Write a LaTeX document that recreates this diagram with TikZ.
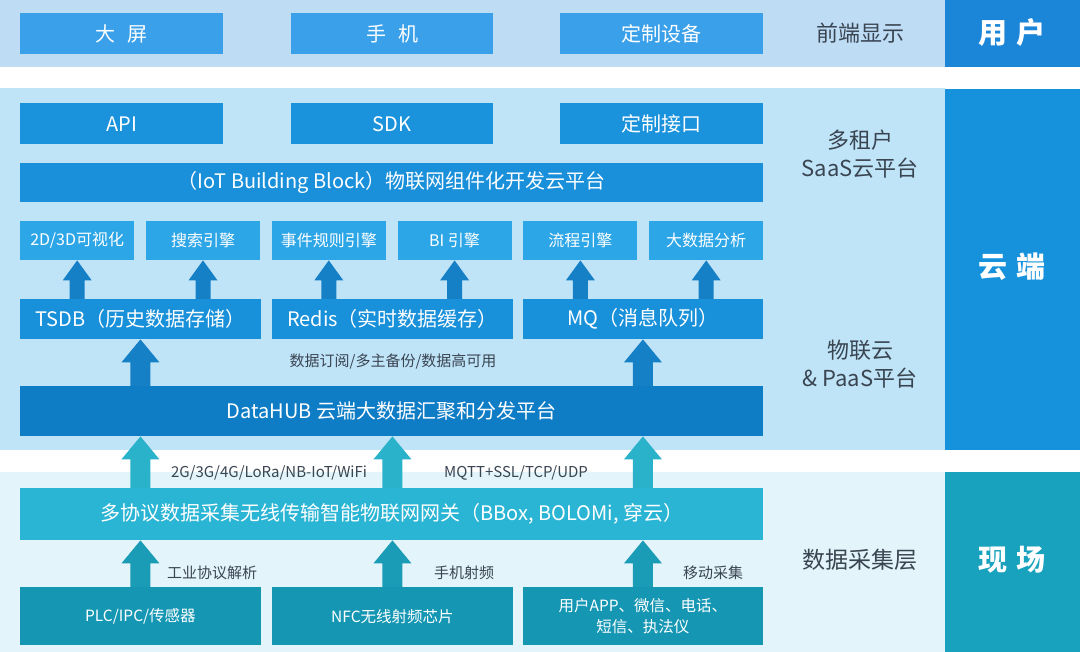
\documentclass[tikz,border=0pt]{standalone}
\usepackage{fontspec}
\setmainfont{Noto Sans CJK SC}
\usetikzlibrary{calc}
\definecolor{bgTop}{HTML}{BFDCF5}
\definecolor{bgCloud}{HTML}{BFE3F7}
\definecolor{bgField}{HTML}{E3F4FA}
\definecolor{cFront}{HTML}{3BA0EA}
\definecolor{cApi}{HTML}{1A93DC}
\definecolor{cIot}{HTML}{1A8FDA}
\definecolor{cEng}{HTML}{2DA6E8}
\definecolor{cSto}{HTML}{1890DA}
\definecolor{cHub}{HTML}{0F7DC6}
\definecolor{cArr}{HTML}{1580C6}
\definecolor{cGw}{HTML}{2BB5D5}
\definecolor{cGwArr}{HTML}{2AB2CB}
\definecolor{cFld}{HTML}{1597B4}
\definecolor{cFldArr}{HTML}{1A9CB6}
\definecolor{cUser}{HTML}{1B85D8}
\definecolor{cCloud}{HTML}{1592DB}
\definecolor{cSite}{HTML}{18A2BD}
\definecolor{cLbl}{HTML}{3A4552}
\newcommand\fz[2]{\fontsize{#1}{#2}\selectfont}
\begin{document}
\begin{tikzpicture}[x=1pt,y=-1pt,
  bx/.style={inner sep=0pt, anchor=north west, text=white, align=center},
  lbl/.style={inner sep=0pt, text=cLbl, align=center},
  side/.style={inner sep=0pt, text=white, align=center, font=\fz{29}{34}\bfseries},
  bigarrow/.style={to path={let \p1=(\tikztostart), \p2=(\tikztotarget) in
    (\x1-10pt,\y1) -- (\x1-10pt,\y2-23pt) -- (\x1-19pt,\y2-23pt) -- (\x1,\y2)
    -- (\x1+19pt,\y2-23pt) -- (\x1+10pt,\y2-23pt) -- (\x1+10pt,\y1) -- cycle}},
  smallarrow/.style={to path={let \p1=(\tikztostart), \p2=(\tikztotarget) in
    (\x1-7.5pt,\y1) -- (\x1-7.5pt,\y2-20pt) -- (\x1-14.5pt,\y2-20pt) -- (\x1,\y2)
    -- (\x1+14.5pt,\y2-20pt) -- (\x1+7.5pt,\y2-20pt) -- (\x1+7.5pt,\y1) -- cycle}}
]
\useasboundingbox (0,0) rectangle (1080,652);
\fill[white] (0,0) rectangle (1080,652);
% bands
\fill[bgTop] (0,0) rectangle (945,67);
\fill[bgCloud] (0,88) rectangle (945,450);
\fill[bgField] (0,472) rectangle (945,652);
% side boxes
\fill[cUser] (945,0) rectangle (1080,67);
\fill[cCloud] (945,89) rectangle (1080,450);
\fill[cSite] (945,472) rectangle (1080,652);
\node[side] (user) at (1012,33) {用\hspace{0.3em}户};
\node[side] (cloud) at (1012,267) {云\hspace{0.3em}端};
\node[side] (site) at (1012,560) {现\hspace{0.3em}场};
% side labels
\node[lbl, font=\fz{22}{28}] (l1) at (860,33) {前端显示};
\node[lbl, font=\fz{22}{28}] (l2) at (860,154) {多租户\\SaaS云平台};
\node[lbl, font=\fz{22}{28}] (l3) at (860,364) {物联云\\\& PaaS平台};
\node[lbl, font=\fz{23}{28}] (l4) at (860,560) {数据采集层};
% front row
\node[bx, fill=cFront, minimum width=203pt, minimum height=41pt, font=\fz{20}{24}] (d1) at (20,13) {大\hspace{0.6em}屏};
\node[bx, fill=cFront, minimum width=202pt, minimum height=41pt, font=\fz{20}{24}] (d2) at (291,13) {手\hspace{0.6em}机};
\node[bx, fill=cFront, minimum width=203pt, minimum height=41pt, font=\fz{20}{24}] (d3) at (560,13) {定制设备};
% api row
\node[bx, fill=cApi, minimum width=203pt, minimum height=41pt, font=\fz{20}{24}] (a1) at (20,103) {API};
\node[bx, fill=cApi, minimum width=202pt, minimum height=41pt, font=\fz{20}{24}] (a2) at (291,103) {SDK};
\node[bx, fill=cApi, minimum width=203pt, minimum height=41pt, font=\fz{20}{24}] (a3) at (560,103) {定制接口};
% iot block
\node[bx, fill=cIot, minimum width=743pt, minimum height=39pt, font=\fz{20}{24}] (iot) at (20,163) {（IoT Building Block）物联网组件化开发云平台};
% engines
\node[bx, fill=cEng, minimum width=114pt, minimum height=39pt, font=\fz{16}{20}] (e1) at (20,221) {2D/3D可视化};
\node[bx, fill=cEng, minimum width=114pt, minimum height=39pt, font=\fz{16}{20}] (e2) at (145.8,221) {搜索引擎};
\node[bx, fill=cEng, minimum width=114pt, minimum height=39pt, font=\fz{16}{20}] (e3) at (271.6,221) {事件规则引擎};
\node[bx, fill=cEng, minimum width=114pt, minimum height=39pt, font=\fz{16}{20}] (e4) at (397.4,221) {BI 引擎};
\node[bx, fill=cEng, minimum width=114pt, minimum height=39pt, font=\fz{16}{20}] (e5) at (523.2,221) {流程引擎};
\node[bx, fill=cEng, minimum width=114pt, minimum height=39pt, font=\fz{16}{20}] (e6) at (649,221) {大数据分析};
% storage
\node[bx, fill=cSto, minimum width=240.5pt, minimum height=40pt, font=\fz{20}{24}] (s1) at (20,299) {TSDB（历史数据存储）};
\node[bx, fill=cSto, minimum width=240.5pt, minimum height=40pt, font=\fz{20}{24}] (s2) at (272,299) {Redis（实时数据缓存）};
\node[bx, fill=cSto, minimum width=240.5pt, minimum height=40pt, font=\fz{20}{24}] (s3) at (522.5,299) {MQ（消息队列）};
% hub
\node[bx, fill=cHub, minimum width=743pt, minimum height=50pt, font=\fz{20}{24}] (hub) at (20,386) {DataHUB 云端大数据汇聚和分发平台};
% gateway
\node[bx, fill=cGw, minimum width=743pt, minimum height=52pt, font=\fz{20}{24}] (gw) at (20,488) {多协议数据采集无线传输智能物联网网关（BBox, BOLOMi, 穿云）};
% field
\node[bx, fill=cFld, minimum width=240.5pt, minimum height=58pt, font=\fz{15.5}{21}] (f1) at (20,587) {PLC/IPC/传感器};
\node[bx, fill=cFld, minimum width=240.5pt, minimum height=58pt, font=\fz{15.5}{21}] (f2) at (272,587) {NFC无线射频芯片};
\node[bx, fill=cFld, minimum width=240.5pt, minimum height=58pt, font=\fz{15.5}{21}] (f3) at (522.5,587) {用户APP、微信、电话、\\短信、执法仪};
% labels
\node[lbl, font=\fz{15}{18}] (t1) at (393,362) {数据订阅/多主备份/数据高可用};
\node[lbl, font=\fz{15}{18}] (t2) at (269,473) {2G/3G/4G/LoRa/NB-IoT/WiFi};
\node[lbl, font=\fz{15}{18}] (t3) at (516,473) {MQTT+SSL/TCP/UDP};
\node[lbl, font=\fz{15}{18}] (t4) at (212,573) {工业协议解析};
\node[lbl, font=\fz{15}{18}] (t5) at (464,573) {手机射频};
\node[lbl, font=\fz{15}{18}] (t6) at (713,573) {移动采集};
% arrows storage -> engines
\fill[cArr] (e1.south |- s1.north) to[smallarrow] (e1.south);
\fill[cArr] (e2.south |- s1.north) to[smallarrow] (e2.south);
\fill[cArr] (e3.south |- s2.north) to[smallarrow] (e3.south);
\fill[cArr] (e4.south |- s2.north) to[smallarrow] (e4.south);
\fill[cArr] (e5.south |- s3.north) to[smallarrow] (e5.south);
\fill[cArr] (e6.south |- s3.north) to[smallarrow] (e6.south);
% hub -> storage
\fill[cArr] (s1.south |- hub.north) to[bigarrow] (s1.south);
\fill[cArr] (s3.south |- hub.north) to[bigarrow] (s3.south);
% gateway -> hub
\fill[cGwArr] (f1.north |- gw.north) to[bigarrow] (f1.north |- hub.south);
\fill[cGwArr] (f2.north |- gw.north) to[bigarrow] (f2.north |- hub.south);
\fill[cGwArr] (f3.north |- gw.north) to[bigarrow] (f3.north |- hub.south);
% field -> gateway
\fill[cFldArr] (f1.north) to[bigarrow] (f1.north |- gw.south);
\fill[cFldArr] (f2.north) to[bigarrow] (f2.north |- gw.south);
\fill[cFldArr] (f3.north) to[bigarrow] (f3.north |- gw.south);
\end{tikzpicture}
\end{document}
